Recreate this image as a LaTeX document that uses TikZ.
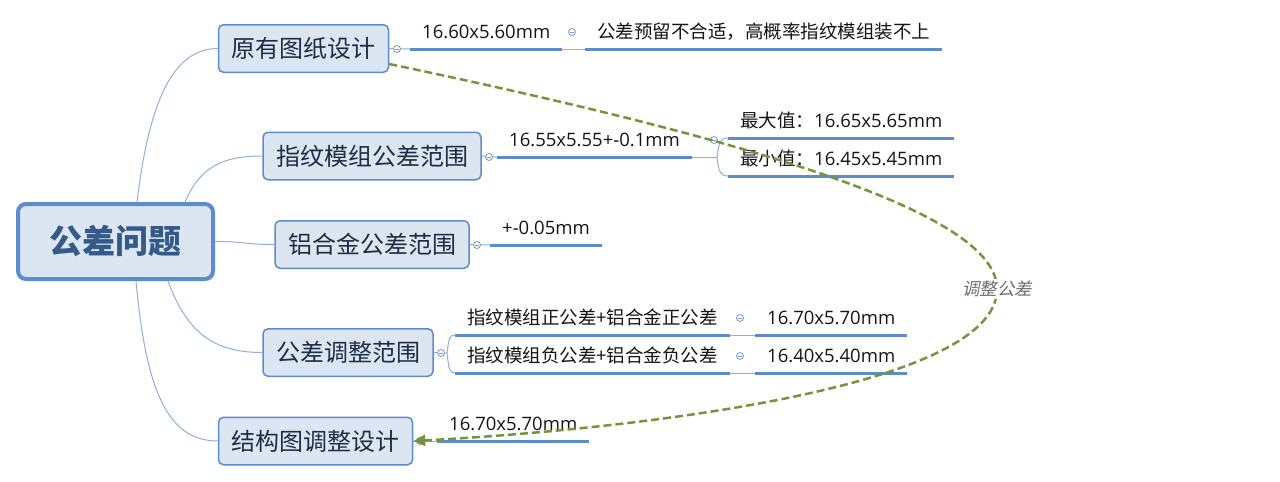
\documentclass[tikz,border=0pt]{standalone}
\usepackage{fontspec}
\setmainfont{Noto Sans CJK SC}
\newfontfamily\numf{Open Sans}
\newfontfamily\slantcjk[FakeSlant=0.2]{Noto Sans CJK SC}
\usetikzlibrary{arrows.meta,calc}
\definecolor{boxfill}{RGB}{220,230,242}
\definecolor{boxline}{RGB}{91,140,205}
\definecolor{twig}{RGB}{141,176,220}
\definecolor{knobline}{RGB}{120,150,200}
\definecolor{roottext}{RGB}{52,90,138}
\definecolor{topictext}{RGB}{30,45,65}
\definecolor{leaftext}{RGB}{20,20,20}
\definecolor{adjgreen}{RGB}{119,147,60}
\definecolor{taggray}{RGB}{110,110,110}
\begin{document}
\begin{tikzpicture}[x=1pt,y=-1pt,
    rootbox/.style={draw=boxline,line width=4pt,fill=boxfill,rounded corners=8pt,minimum width=195pt,minimum height=75pt,text=roottext,font=\fontsize{33}{40}\selectfont\bfseries},
    topicbox/.style={draw=boxline,line width=1.5pt,fill=boxfill,rounded corners=5pt,inner xsep=13pt,minimum height=47.5pt,text=topictext,font=\fontsize{24}{28}\selectfont},
    leaf/.style={inner xsep=12pt,inner ysep=5pt,text height=14pt,text depth=5pt,anchor=south west,text=leaftext,font=\fontsize{18.5}{22}\selectfont},
    stem/.style={draw=twig,line width=1pt},
    uline/.style={draw=boxline,line width=3pt},
    knob/.style={circle,draw=knobline,line width=0.8pt,fill=white,inner sep=0pt,minimum size=7pt,
      path picture={\draw[knobline,line width=0.8pt] ([xshift=-2pt]path picture bounding box.center) -- ([xshift=2pt]path picture bounding box.center);}},
    adjust/.style={draw=adjgreen,line width=2.5pt,dash pattern=on 8pt off 4pt,-{Triangle[length=12pt,width=11pt]}},
    tag/.style={fill=white,inner sep=2pt,text=taggray,font=\slantcjk\fontsize{17.5}{20}\selectfont}]
    \useasboundingbox (0,0) rectangle (1280,482);

    \node[rootbox] (r) at (115.5,241.5) {公差问题};
    \node[topicbox] (b1) at (303.5,48.5) {原有图纸设计};
    \node[topicbox] (b2) at (372,156) {指纹模组公差范围};
    \node[topicbox] (b3) at (372,244.5) {铝合金公差范围};
    \node[topicbox] (b4) at (348,352.5) {公差调整范围};
    \node[topicbox] (b5) at (315.5,441) {结构图调整设计};

    \draw[stem] ([xshift=21.5pt]r.north) .. controls +(12,-100) and +(-45,0) .. (b1.west);
    \draw[stem] ([xshift=69.5pt]r.north) .. controls +(15,-35) and +(-40,0) .. (b2.west);
    \draw[stem] (r.east) .. controls +(30,0) and +(-30,0) .. (b3.west);
    \draw[stem] ([xshift=52.5pt]r.south) .. controls +(20,55) and +(-45,0) .. (b4.west);
    \draw[stem] ([xshift=20.5pt]r.south) .. controls +(10,110) and +(-50,0) .. (b5.west);

    \node[leaf] (l1) at (410,49) {\numf 16.60x5.60mm};
    \node[leaf] (l1b) at (585,49) {公差预留不合适，高概率指纹模组装不上};
    \node[leaf] (l2) at (497,157) {\numf 16.55x5.55+-0.1mm};
    \node[leaf] (l2a) at (728,138) {最大值：{\numf 16.65x5.65mm}};
    \node[leaf] (l2b) at (728,176) {最小值：{\numf 16.45x5.45mm}};
    \node[leaf] (l3) at (490,245) {\numf +-0.05mm};
    \node[leaf] (l4a) at (455,335) {指纹模组正公差+铝合金正公差};
    \node[leaf] (l4b) at (455,373) {指纹模组负公差+铝合金负公差};
    \node[leaf] (l4c) at (755,335) {\numf 16.70x5.70mm};
    \node[leaf] (l4d) at (755,373) {\numf 16.40x5.40mm};
    \node[leaf] (l5) at (437,441) {\numf 16.70x5.70mm};

    \coordinate (f2) at (717,157);
    \coordinate (f4) at (447,353);
    \draw[stem] (b1.east) -- (l1.south west);
    \draw[stem] (l1.south east) -- (l1b.south west);
    \draw[stem] (b2.east) -- (l2.south west);
    \draw[stem] (l2.south east) -- (f2);
    \draw[stem] (f2) .. controls +(2,-15) and +(-8,0) .. (l2a.south west);
    \draw[stem] (f2) .. controls +(2,15) and +(-8,0) .. (l2b.south west);
    \draw[stem] (b3.east) -- (l3.south west);
    \draw[stem] (b4.east) -- (f4);
    \draw[stem] (f4) .. controls +(2,-14) and +(-6,0) .. (l4a.south west);
    \draw[stem] (f4) .. controls +(2,16) and +(-6,0) .. (l4b.south west);
    \draw[stem] (l4a.south east) -- (l4c.south west);
    \draw[stem] (l4b.south east) -- (l4d.south west);
    \draw[stem] (b5.east) -- (l5.south west);

    \foreach \n in {l1,l1b,l2,l2a,l2b,l3,l4a,l4b,l4c,l4d,l5}
      \draw[uline] (\n.south west) -- (\n.south east);

    \node[knob] (k1) at (397,49) {};
    \node[knob] (k1b) at (572,32) {};
    \node[knob] (k2) at (489,157) {};
    \node[knob] (k2b) at (714,140) {};
    \node[knob] (k3) at (477,245) {};
    \node[knob] (k4) at (441,353) {};
    \node[knob] (k4a) at (740,318) {};
    \node[knob] (k4b) at (740,356) {};
    \node[knob] (k5) at (420,441) {};

    \draw[adjust] ($(b1.south east)+(0,-9)$) .. controls (800,150) and (997,220) .. (997,289)
      node[tag] (adj) {调整公差}
      .. controls (997,390) and (620,430) .. (b5.east);
\end{tikzpicture}
\end{document}
